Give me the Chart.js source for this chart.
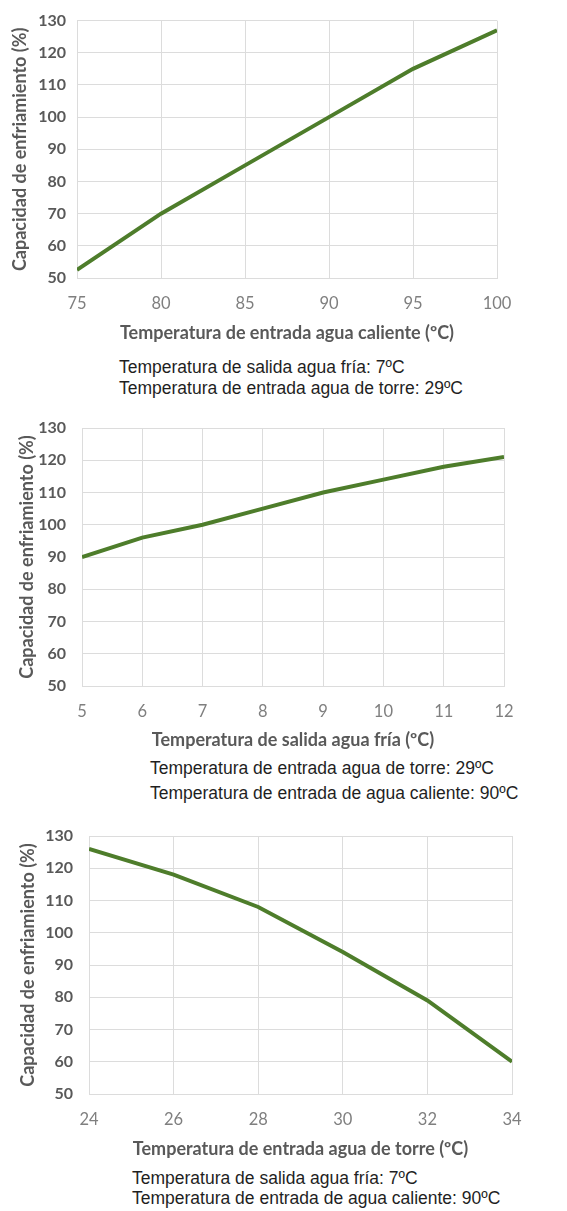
<!DOCTYPE html>
<html>
<head>
<meta charset="utf-8">
<script src="https://cdn.jsdelivr.net/npm/chart.js@4/dist/chart.umd.min.js"></script>
<style>
    html, body { margin: 0; padding: 0; background: #fff; }
    #page { position: relative; width: 567px; height: 1211px; overflow: hidden; }
    .box { position: absolute; left: 0; width: 567px; }
    .note {
        position: absolute;
        font-family: "Liberation Sans", Arial, sans-serif;
        font-size: 17.5px;
        color: #1f1f1f;
        white-space: nowrap;
        line-height: 20px;
    }
</style>
</head>
<body>
<div id="page">
    <div class="box" style="top:0px"><canvas id="chart1" width="567" height="345"></canvas></div>
    <div class="note" style="left:119px; top:357px">Temperatura de salida agua fría: 7ºC</div>
    <div class="note" style="left:119px; top:378px">Temperatura de entrada agua de torre: 29ºC</div>

    <div class="box" style="top:400px"><canvas id="chart2" width="567" height="352"></canvas></div>
    <div class="note" style="left:150px; top:758px">Temperatura de entrada agua de torre: 29ºC</div>
    <div class="note" style="left:150px; top:783px">Temperatura de entrada de agua caliente: 90ºC</div>

    <div class="box" style="top:800px"><canvas id="chart3" width="567" height="361"></canvas></div>
    <div class="note" style="left:132px; top:1168px">Temperatura de salida agua fría: 7ºC</div>
    <div class="note" style="left:132px; top:1188px">Temperatura de entrada de agua caliente: 90ºC</div>
</div>
<script>
// chart 1 - hot water inlet
const hotInletTemps = [75, 80, 85, 90, 95, 100];
const hotInletCapacity = [52.5, 70, 85, 100, 115, 127];

// chart 2 - chilled water outlet
const chilledOutletTemps = [5, 6, 7, 8, 9, 10, 11, 12];
const chilledOutletCapacity = [90, 96, 100, 105, 110, 114, 118, 121];

// chart 3 - cooling tower inlet
const towerInletTemps = [24, 26, 28, 30, 32, 34];
const towerInletCapacity = [126, 118, 108, 94, 79, 60];

const yTitle = 'Capacidad de enfriamiento (%)';
const lineColor = '#4e7d2b';
const gridColor = '#dcdcdc';

function makeChart(id, xs, ys, xTitle, xMin, xMax, xStep, box) {
    const ctx = document.getElementById(id).getContext('2d');
    const canvasH = document.getElementById(id).height;
    new Chart(ctx, {
        type: 'line',
        data: {
            datasets: [{
                data: xs.map((x, i) => ({ x: x, y: ys[i] })),
                borderColor: lineColor,
                borderWidth: 4,
                pointRadius: 0,
                tension: 0,
                fill: false
            }]
        },
        options: {
            responsive: false,
            animation: false,
            devicePixelRatio: 1,
            layout: {
                padding: { top: box.top, left: 0, right: 567 - box.right, bottom: 0 }
            },
            plugins: {
                legend: { display: false },
                tooltip: { enabled: false }
            },
            scales: {
                x: {
                    type: 'linear',
                    min: xMin,
                    max: xMax,
                    afterFit: function (s) { s.height = canvasH - box.bottom; },
                    grid: { color: gridColor, drawTicks: false },
                    border: { color: gridColor },
                    ticks: {
                        stepSize: xStep,
                        padding: 16,
                        color: '#7f7f7f',
                        font: { family: 'Lato', size: 16.5 }
                    },
                    title: {
                        display: true,
                        text: xTitle,
                        color: '#595959',
                        font: { family: 'Lato', size: 18, weight: 'bold' },
                        padding: { top: 0, bottom: 1 }
                    }
                },
                y: {
                    min: 50,
                    max: 130,
                    afterFit: function (s) { s.width = box.left; },
                    grid: { color: gridColor, drawTicks: false },
                    border: { color: gridColor },
                    ticks: {
                        stepSize: 10,
                        padding: box.tickPad,
                        color: '#595959',
                        font: { family: 'Lato', size: 16, weight: 'bold' }
                    },
                    title: {
                        display: true,
                        text: yTitle,
                        color: '#595959',
                        font: { family: 'Lato', size: 18, weight: 'bold' },
                        padding: { top: box.yTitleX - 11, bottom: 0 }
                    }
                }
            }
        }
    });
}

document.addEventListener('DOMContentLoaded', function () {
    makeChart('chart1', hotInletTemps, hotInletCapacity,
        'Temperatura de entrada agua caliente (ºC)', 75, 100, 5,
        { top: 19, bottom: 278, left: 77, right: 497, tickPad: 11, yTitleX: 20 });
    makeChart('chart2', chilledOutletTemps, chilledOutletCapacity,
        'Temperatura de salida agua fría (ºC)', 5, 12, 1,
        { top: 28, bottom: 286, left: 82, right: 504, tickPad: 16, yTitleX: 27 });
    makeChart('chart3', towerInletTemps, towerInletCapacity,
        'Temperatura de entrada agua de torre (ºC)', 24, 34, 2,
        { top: 36, bottom: 294, left: 89, right: 512, tickPad: 16, yTitleX: 28 });
});
</script>
</body>
</html>
